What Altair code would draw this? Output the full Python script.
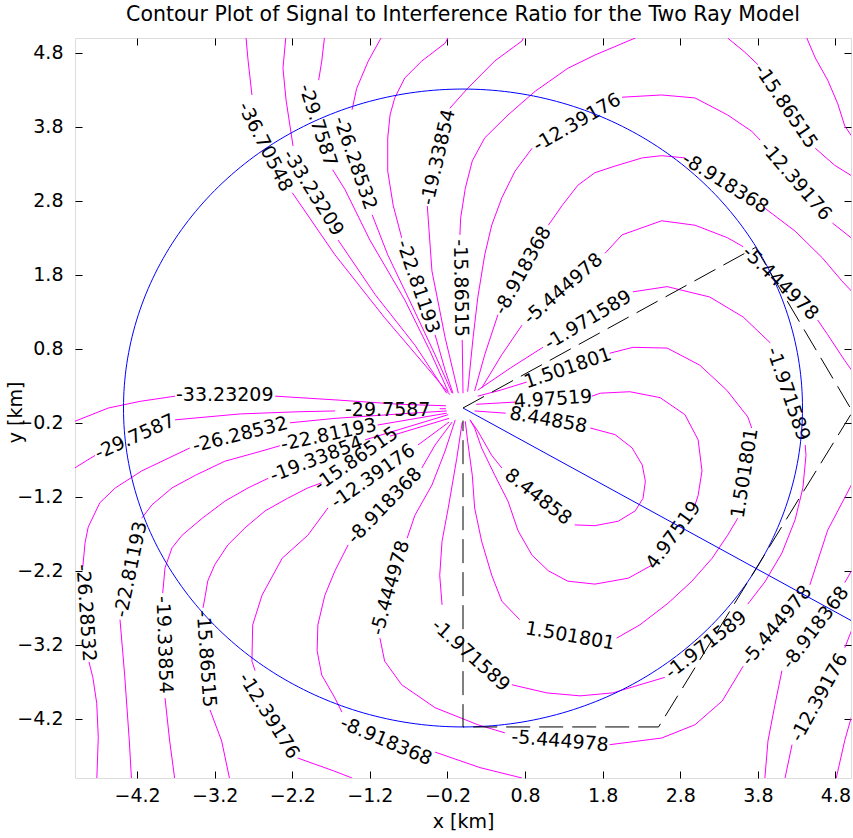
import altair as alt
import pandas as pd
import numpy as np

FONT = "DejaVu Sans"

# ---- contour levels (dB) and their digitised segments (km) ----
level_values = [-36.70548, -33.23209, -29.7587, -26.28532, -22.81193, -19.33854,
                -15.86515, -12.39176, -8.918368, -5.444978, -1.971589,
                1.501801, 4.97519, 8.44858]

lv_m36 = [
    [(-2.80, 5.05), (-2.77, 4.70), (-2.72, 4.23)],
    [(-2.20, 2.91), (-1.65, 2.07), (-1.01, 1.22), (-0.49, 0.58), (-0.17, 0.18)],
]
lv_m33 = [
    [(-2.28, 5.05), (-2.32, 4.59), (-2.28, 4.16), (-2.19, 3.54)],
    [(-1.61, 2.27), (-1.13, 1.53), (-0.62, 0.85), (-0.21, 0.20)],
    [(-5.05, -0.20), (-4.57, 0.00), (-4.16, 0.09), (-3.71, 0.16)],
    [(-2.42, 0.16), (-1.65, 0.11), (-0.81, 0.05), (-0.22, 0.03)],
]
lv_m29 = [
    [(-1.78, 5.05), (-1.82, 4.69), (-1.86, 4.43)],
    [(-1.68, 3.22), (-1.52, 2.95), (-1.20, 2.27), (-0.75, 1.46), (-0.43, 0.78), (-0.19, 0.22)],
    [(-5.05, -0.84), (-4.74, -0.64)],
    [(-3.71, -0.16), (-2.87, -0.08), (-2.10, -0.05), (-1.65, -0.04)],
    [(-0.30, -0.01), (-0.22, -0.01)],
]
lv_m26 = [
    [(-1.03, 5.05), (-1.22, 4.69), (-1.37, 4.32), (-1.43, 4.03)],
    [(-1.17, 2.61), (-0.97, 2.07), (-0.66, 1.39), (-0.36, 0.72), (-0.14, 0.20)],
    [(-4.72, -5.05), (-4.70, -4.45), (-4.72, -3.99), (-4.77, -3.64), (-4.82, -3.43)],
    [(-4.90, -2.15), (-4.87, -1.82), (-4.83, -1.61), (-4.68, -1.28), (-4.48, -1.08),
     (-4.14, -0.85), (-3.80, -0.68), (-3.52, -0.54)],
    [(-2.23, -0.20), (-1.65, -0.14), (-0.81, -0.08), (-0.21, -0.04)],
]
lv_m22 = [
    [(-0.17, 5.05), (-0.23, 4.93), (-0.53, 4.69), (-0.75, 4.46), (-0.88, 4.19), (-0.94, 3.96),
     (-0.97, 3.65), (-0.97, 3.20), (-0.90, 2.74), (-0.79, 2.30)],
    [(-0.36, 0.99), (-0.23, 0.51), (-0.13, 0.20)],
    [(-4.27, -5.05), (-4.30, -4.50), (-4.36, -3.61), (-4.42, -2.86)],
    [(-4.14, -1.49), (-4.01, -1.31), (-3.75, -1.08), (-3.45, -0.91), (-3.07, -0.72),
     (-2.59, -0.58), (-2.36, -0.51)],
    [(-1.10, -0.23), (-0.21, -0.07)],
]
lv_m19 = [
    [(0.80, 5.05), (0.76, 4.96), (0.41, 4.69), (0.06, 4.32), (-0.17, 4.05)],
    [(-0.46, 2.73), (-0.40, 1.85), (-0.23, 0.95), (-0.06, 0.20)],
    [(-3.71, -5.05), (-3.78, -4.50), (-3.84, -3.92)],
    [(-3.87, -2.50), (-3.84, -2.16), (-3.75, -1.89), (-3.62, -1.72), (-3.36, -1.49),
     (-3.07, -1.26), (-2.77, -1.08), (-2.51, -0.95)],
    [(-1.26, -0.43), (-0.19, -0.09)],
    [(4.41, 5.05), (4.54, 4.73), (4.70, 4.43), (4.83, 4.11), (4.92, 3.81), (5.05, 3.61)],
]
lv_m15 = [
    [(0.00, 0.20), (-0.01, 0.92)],
    [(-0.04, 2.34), (-0.03, 2.57), (0.03, 2.97), (0.12, 3.34), (0.28, 3.65), (0.58, 3.96),
     (0.93, 4.28), (1.35, 4.59), (1.70, 4.77), (2.22, 5.00), (2.30, 5.05)],
    [(3.37, 5.05), (3.41, 5.00), (3.63, 4.81), (3.80, 4.64)],
    [(4.54, 3.51), (4.79, 3.28), (5.05, 3.11)],
    [(-3.00, -5.05), (-3.11, -4.50), (-3.26, -4.08)],
    [(-3.35, -2.70), (-3.32, -2.53), (-3.29, -2.34), (-3.20, -2.12), (-3.03, -1.85),
     (-2.81, -1.62), (-2.55, -1.39), (-2.26, -1.22), (-2.00, -1.08), (-1.82, -1.01)],
    [(-0.94, -0.38), (-0.18, -0.14)],
    [(4.78, -5.05), (4.81, -5.00), (4.92, -4.49), (5.05, -4.01)],
]
lv_m12 = [
    [(0.06, 0.22), (0.13, 0.95), (0.19, 1.49), (0.28, 2.07), (0.37, 2.47), (0.50, 2.84),
     (0.67, 3.20), (0.89, 3.51)],
    [(2.05, 4.20), (2.56, 4.23), (2.99, 4.19), (3.41, 3.96), (3.72, 3.74), (3.83, 3.62)],
    [(4.76, 2.50), (5.05, 2.26)],
    [(-0.18, -0.19), (-0.58, -0.50)],
    [(-1.74, -1.35), (-2.00, -1.72), (-2.33, -2.03), (-2.59, -2.53), (-2.71, -2.93),
     (-2.72, -3.42), (-2.68, -3.55)],
    [(-2.13, -4.73), (-1.65, -4.91), (-1.43, -5.00), (-1.38, -5.05)],
    [(4.14, -5.05), (4.15, -5.00), (4.24, -4.55)],
    [(4.92, -3.24), (5.05, -2.89)],
]
lv_m8 = [
    [(0.15, 0.23), (0.28, 0.72), (0.45, 1.26)],
    [(1.10, 2.47), (1.28, 2.74), (1.48, 3.01), (1.70, 3.18), (1.96, 3.27), (2.31, 3.38),
     (2.56, 3.41), (2.86, 3.38)],
    [(3.89, 2.70), (4.28, 2.39), (4.63, 2.03), (4.88, 1.72), (5.05, 1.53)],
    [(-0.14, -0.19), (-0.36, -0.50), (-0.53, -0.81)],
    [(-1.48, -1.85), (-1.65, -2.20), (-1.78, -2.53), (-1.87, -2.93), (-1.88, -3.28),
     (-1.82, -3.61), (-1.65, -3.92), (-1.56, -4.11)],
    [(-0.36, -4.65), (0.22, -4.86), (0.76, -5.00), (0.80, -5.05)],
    [(3.88, -5.05), (3.89, -5.00), (3.93, -4.50), (4.02, -4.01), (4.11, -3.55)],
    [(4.92, -2.36), (5.05, -2.12)],
]
lv_m5 = [
    [(0.24, 0.27), (0.50, 0.72), (0.76, 1.12)],
    [(1.83, 2.09), (2.05, 2.34), (2.56, 2.53), (2.99, 2.47), (3.41, 2.30), (3.61, 2.18)],
    [(4.57, 1.19), (4.70, 0.99), (4.92, 0.64), (5.05, 0.45)],
    [(-0.10, -0.16), (-0.23, -0.58), (-0.40, -1.04), (-0.62, -1.45), (-0.72, -1.76)],
    [(-1.07, -3.11), (-1.01, -3.42), (-0.79, -3.74), (-0.36, -4.05), (0.19, -4.28), (0.54, -4.39)],
    [(1.89, -4.55), (2.56, -4.46), (2.99, -4.28), (3.34, -3.96), (3.61, -3.49)],
    [(4.47, -2.39), (4.70, -1.65), (5.05, -0.95)],
]
lv_m1 = [
    [(-0.01, -0.19), (-0.08, -0.68), (-0.19, -1.35), (-0.27, -1.80), (-0.30, -2.26), (-0.27, -2.66)],
    [(0.63, -3.74), (1.08, -3.85), (1.51, -3.89), (1.93, -3.85), (2.28, -3.74), (2.60, -3.64)],
    [(3.67, -2.65), (3.89, -2.35), (4.11, -1.96), (4.28, -1.51), (4.38, -1.08), (4.42, -0.64),
     (4.41, -0.50)],
    [(3.96, 0.88), (3.61, 1.23), (3.18, 1.50), (2.63, 1.64), (2.19, 1.57)],
    [(1.03, 0.82), (0.61, 0.54), (0.19, 0.24)],
]
lv_p1 = [
    [(0.03, -0.18), (0.06, -0.45), (0.12, -0.91), (0.15, -1.35), (0.24, -1.80), (0.37, -2.26),
     (0.50, -2.61), (0.73, -2.86)],
    [(1.98, -3.11), (2.28, -2.93), (2.64, -2.64), (2.95, -2.34), (3.21, -2.03), (3.41, -1.72),
     (3.54, -1.49)],
    [(3.72, -0.27), (3.67, -0.12), (3.40, 0.24), (3.05, 0.58), (2.63, 0.81), (2.19, 0.82), (1.89, 0.74)],
    [(0.82, 0.35), (0.48, 0.24), (0.19, 0.16)],
]
lv_p4 = [
    [(0.17, 0.05), (0.67, 0.08)],
    [(1.66, 0.16), (1.77, 0.20), (2.15, 0.22), (2.54, 0.14), (2.86, -0.09), (3.03, -0.43),
     (3.08, -0.85), (3.03, -1.18), (2.99, -1.31)],
    [(2.44, -2.12), (2.13, -2.30), (1.70, -2.38), (1.35, -2.34), (1.10, -2.20), (0.89, -1.99),
     (0.71, -1.66), (0.58, -1.26), (0.41, -0.91), (0.24, -0.54), (0.15, -0.27), (0.09, -0.16)],
]
lv_p8 = [
    [(0.15, -0.04), (0.55, -0.07)],
    [(1.64, -0.27), (1.96, -0.36), (2.18, -0.54), (2.31, -0.77), (2.35, -0.99), (2.32, -1.22),
     (2.22, -1.39), (2.00, -1.53), (1.70, -1.59), (1.44, -1.58)],
    [(0.50, -0.81), (0.37, -0.64), (0.19, -0.31), (0.09, -0.16)],
]

contours = [lv_m36, lv_m33, lv_m29, lv_m26, lv_m22, lv_m19, lv_m15,
            lv_m12, lv_m8, lv_m5, lv_m1, lv_p1, lv_p4, lv_p8]

# ---- inline contour labels ----
label_text = ["-36.70548", "-33.23209", "-29.7587", "-26.28532", "-22.81193", "-19.33854",
              "-15.86515", "-12.39176", "-8.918368", "-5.444978", "-1.971589", "1.501801",
              "4.97519", "8.44858", "8.44858", "4.97519", "1.501801", "-1.971589",
              "-5.444978", "-8.918368", "-12.39176", "-15.86515", "-33.23209", "-29.7587",
              "-26.28532", "-29.7587", "-22.81193", "-19.33854", "-15.86515", "-12.39176",
              "-8.918368", "-5.444978", "-1.971589", "1.501801", "-5.444978", "-8.918368",
              "-1.971589", "-5.444978", "-8.918368", "-12.39176", "-26.28532", "-22.81193",
              "-19.33854", "-15.86515", "-12.39176"]
label_x = [-2.55, -1.93, -1.87, -1.39, -0.58, -0.32, -0.03, 1.47, 0.77, 1.29, 1.61, 1.35,
           1.16, 1.10, 0.97, 2.71, 3.63, 4.19, 4.09, 3.38, 4.29, 4.16, -3.07, -4.23,
           -2.87, -0.97, -1.73, -1.89, -1.38, -1.16, -1.01, -0.94, 0.10, 1.38, 1.25, -0.99,
           3.13, 4.04, 4.54, 4.59, -4.86, -4.28, -3.85, -3.31, -2.50]
label_y = [3.53, 2.91, 3.82, 3.31, 1.64, 3.39, 1.62, 3.86, 1.86, 1.61, 1.19, 0.54,
           0.12, -0.16, -1.20, -1.72, -0.88, 0.19, 1.69, 3.04, 3.07, 4.08, 0.18, -0.39,
           -0.36, -0.03, -0.36, -0.69, -0.69, -0.92, -1.32, -2.43, -3.34, -3.08, -4.50, -4.50,
           -3.20, -2.94, -2.97, -3.91, -2.77, -2.18, -3.20, -3.39, -4.16]
label_angle = [63, 58, 72, 71, 71, 283, 89, 330, 299, 319, 329, 341,
               356, 10, 38, 306, 279, 71, 44, 32, 49, 56, 0, 336,
               346, 0, 348, 339, 325, 325, 314, 286, 42, 10, 5, 23,
               322, 310, 307, 299, 86, 282, 88, 86, 58]

# ---- overlays ----
cell_center = (0.0, 0.0)
cell_radius_x = 4.375
cell_radius_y = 4.31
ray_x = [0.0, 5.05]
ray_y = [0.0, -2.90]
sector_x = [0.0, 3.77, 5.02, 2.52, 0.0, 0.0]
sector_y = [0.0, 2.17, -0.05, -4.31, -4.31, -0.17]

tick_values = [-4.2, -3.2, -2.2, -1.2, -0.2, 0.8, 1.8, 2.8, 3.8, 4.8]

# ---- tables ----
rows = []
for lv, segs in zip(level_values, contours):
    for si, seg in enumerate(segs):
        for pi, (x, y) in enumerate(seg):
            rows.append({"seg": f"{lv}_{si}", "order": pi, "x": x, "y": y, "level": lv})
contour_df = pd.DataFrame(rows)

labels_df = pd.DataFrame({"text": label_text, "x": label_x, "y": label_y, "angle": label_angle})

theta = np.linspace(0, 2 * np.pi, 361)
circle_df = pd.DataFrame({
    "x": cell_center[0] + cell_radius_x * np.cos(theta),
    "y": cell_center[1] + cell_radius_y * np.sin(theta),
    "order": np.arange(len(theta)),
})
ray_df = pd.DataFrame({"x": ray_x, "y": ray_y, "order": [0, 1]})
sector_df = pd.DataFrame({"x": sector_x, "y": sector_y, "order": list(range(len(sector_x)))})

xs = alt.Scale(domain=[-5, 5], nice=False, zero=False)
ys = alt.Scale(domain=[-5, 5], nice=False, zero=False)

common = dict(values=tick_values, grid=False, domain=False, tickColor="black", tickWidth=1,
              tickSize=7, offset=-7)
ax_bottom = alt.Axis(orient="bottom", format=".1f", title="x [km]", labelPadding=8,
                     labelFont=FONT, labelFontSize=19, labelColor="black",
                     titleFont=FONT, titleFontSize=19, titleFontWeight="normal",
                     titleColor="black", titlePadding=7, **common)
ax_left = alt.Axis(orient="left", format=".1f", title="y [km]", labelPadding=12,
                   labelFont=FONT, labelFontSize=19, labelColor="black",
                   titleFont=FONT, titleFontSize=19, titleFontWeight="normal",
                   titleColor="black", titleX=-67, titleY=374, titleAngle=270,
                   titleAlign="center", titleBaseline="middle", **common)
ax_top = alt.Axis(orient="top", labels=False, title="", **common)
ax_right = alt.Axis(orient="right", labels=False, title="", **common)

lines = alt.Chart(contour_df).mark_line(color="#ff00ff", strokeWidth=1, clip=True).encode(
    x=alt.X("x:Q", scale=xs, axis=ax_bottom),
    y=alt.Y("y:Q", scale=ys, axis=ax_left),
    detail="seg:N",
    order="order:Q",
)

labels = alt.Chart(labels_df).mark_text(font=FONT, fontSize=19, color="black",
                                        align="center", baseline="middle", clip=True).encode(
    x=alt.X("x:Q", scale=xs, axis=None),
    y=alt.Y("y:Q", scale=ys, axis=None),
    text="text:N",
    angle=alt.Angle("angle:Q", scale=None),
)

circle = alt.Chart(circle_df).mark_line(color="#0000ff", strokeWidth=1, clip=True).encode(
    x=alt.X("x:Q", scale=xs, axis=ax_top),
    y=alt.Y("y:Q", scale=ys, axis=ax_right),
    order="order:Q",
)

ray = alt.Chart(ray_df).mark_line(color="#0000ff", strokeWidth=1, clip=True).encode(
    x=alt.X("x:Q", scale=xs, axis=None),
    y=alt.Y("y:Q", scale=ys, axis=None),
    order="order:Q",
)

sector = alt.Chart(sector_df).mark_line(color="black", strokeWidth=1, strokeDash=[24, 9],
                                        clip=True).encode(
    x=alt.X("x:Q", scale=xs, axis=None),
    y=alt.Y("y:Q", scale=ys, axis=None),
    order="order:Q",
)

chart = alt.layer(lines, labels, circle, ray, sector).properties(
    width=776,
    height=740,
    padding={"left": 75, "top": 38, "right": 2, "bottom": 60},
    autosize=alt.AutoSizeParams(type="none"),
    title=alt.TitleParams(
        text="Contour Plot of Signal to Interference Ratio for the Two Ray Model",
        font=FONT, fontSize=20.5, fontWeight="normal", color="black", anchor="middle", offset=12,
    ),
).configure_view(stroke="black", strokeWidth=1).configure(background="white")

chart.save("out.html", embed_options={"renderer": "svg", "actions": False})
